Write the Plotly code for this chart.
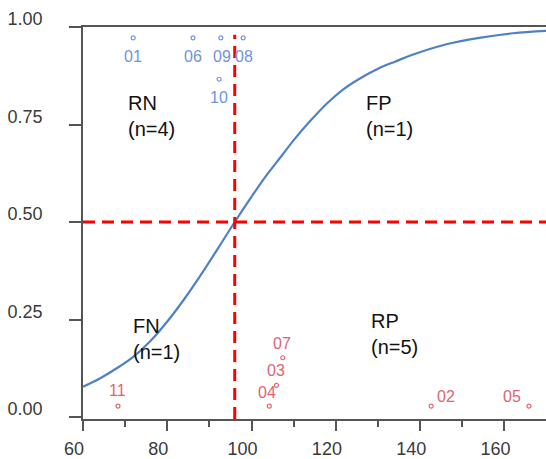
import plotly.graph_objects as go

# Fitted probability curve, read along the predictor
curve_x = [60, 64, 68, 72, 76, 80, 84, 88, 92, 96, 100, 103, 107, 110, 114, 118,
           122, 126, 130, 134, 138, 146, 154, 162, 170]
curve_p = [0.078, 0.099, 0.125, 0.155, 0.195, 0.245, 0.302, 0.365, 0.432, 0.5, 0.565,
           0.612, 0.668, 0.71, 0.76, 0.805, 0.842, 0.870, 0.893, 0.911, 0.928, 0.955,
           0.972, 0.984, 0.99]

# Cut-offs
threshold_x = 96
threshold_p = 0.5

# Cases with outcome = 1 (upper) and outcome = 0 (lower)
upper_ids = ["01", "06", "09", "08", "10"]
upper_x = [71.9, 86.1, 92.7, 98.0, 92.3]
upper_y = [0.972, 0.972, 0.972, 0.972, 0.866]

lower_ids = ["11", "04", "03", "07", "02", "05"]
lower_x = [68.3, 104.2, 105.9, 107.4, 142.6, 165.8]
lower_y = [0.028, 0.028, 0.081, 0.152, 0.028, 0.028]

# Quadrant captions
quad_text = ["RN<br>(n=4)", "FP<br>(n=1)", "FN<br>(n=1)", "RP<br>(n=5)"]
quad_x = [70.2, 126.7, 71.4, 127.9]
quad_y = [0.772, 0.773, 0.2, 0.214]

x_ticks = [60, 80, 100, 120, 140, 160]
y_ticks = [0.0, 0.25, 0.5, 0.75, 1.0]
y_tick_text = ["0.00", "0.25", "0.50", "0.75", "1.00"]

FONT = "Liberation Sans, Arial, sans-serif"
BLUE = "#6F93DF"
RED = "#E0646F"
CURVE = "#4F80C6"

# label offsets (px) relative to each marker
upper_shift = {"01": (0, -19), "06": (0, -19), "09": (1, -19), "08": (1, -19), "10": (0, -18)}
lower_shift = {"11": (0, 16), "04": (-2, 14), "03": (0, 15), "07": (-1, 14), "02": (15, 10), "05": (-17, 10)}

fig = go.Figure()

fig.add_trace(go.Scatter(
    x=curve_x, y=curve_p, mode="lines",
    line=dict(color=CURVE, width=2.2, shape="spline", smoothing=1.0),
    hoverinfo="skip", showlegend=False,
))

fig.add_trace(go.Scatter(
    x=upper_x, y=upper_y, mode="markers",
    marker=dict(symbol="circle-open", size=4, color=BLUE, line=dict(width=1.2, color=BLUE)),
    showlegend=False,
))
fig.add_trace(go.Scatter(
    x=lower_x, y=lower_y, mode="markers",
    marker=dict(symbol="circle-open", size=4, color=RED, line=dict(width=1.2, color=RED)),
    showlegend=False,
))

for cid, x, y in zip(upper_ids, upper_x, upper_y):
    dx, dy = upper_shift[cid]
    fig.add_annotation(x=x, y=y, text=cid, showarrow=False, xshift=dx, yshift=dy,
                       font=dict(family=FONT, size=16, color=BLUE))
for cid, x, y in zip(lower_ids, lower_x, lower_y):
    dx, dy = lower_shift[cid]
    fig.add_annotation(x=x, y=y, text=cid, showarrow=False, xshift=dx, yshift=dy,
                       font=dict(family=FONT, size=16, color=RED))

for t, x, y in zip(quad_text, quad_x, quad_y):
    fig.add_annotation(x=x, y=y, text=t, showarrow=False, xanchor="left", yanchor="middle",
                       align="left", font=dict(family=FONT, size=20, color="#111111"))

DASH = "12px,7px"
fig.add_shape(type="line", xref="x", yref="paper", x0=threshold_x, x1=threshold_x, y0=0, y1=0.98,
              line=dict(color="#FF0000", width=3, dash=DASH))
fig.add_shape(type="line", xref="paper", yref="y", x0=0, x1=1, y0=threshold_p, y1=threshold_p,
              line=dict(color="#FF0000", width=3, dash=DASH))

fig.update_xaxes(
    range=[60, 169.85], tickvals=x_ticks, ticks="outside", ticklen=10, tickwidth=1.5,
    tickcolor="#555555", showline=True, linecolor="#555555", linewidth=1.8, mirror=True,
    showgrid=False, zeroline=False,
    minor=dict(dtick=10, tick0=60, ticks="outside", ticklen=6, tickwidth=1.5, tickcolor="#555555"),
    tickfont=dict(family=FONT, size=18, color="#3a3a3a"),
    ticklabelshift=-9, ticklabelstandoff=2,
)
fig.update_yaxes(
    range=[-0.005, 1.0], tickvals=y_ticks, ticktext=y_tick_text, ticks="outside", ticklen=12,
    tickwidth=1.5, tickcolor="#555555", showline=True, linecolor="#555555", linewidth=1.8,
    mirror=False, showgrid=False, zeroline=False,
    tickfont=dict(family=FONT, size=18, color="#3a3a3a"),
    ticklabelshift=-8, ticklabelstandoff=23,
)

fig.update_layout(
    width=546, height=459,
    margin=dict(l=83, r=0, t=27, b=36),
    paper_bgcolor="white", plot_bgcolor="white",
    showlegend=False,
)

fig.write_html("out.html")
